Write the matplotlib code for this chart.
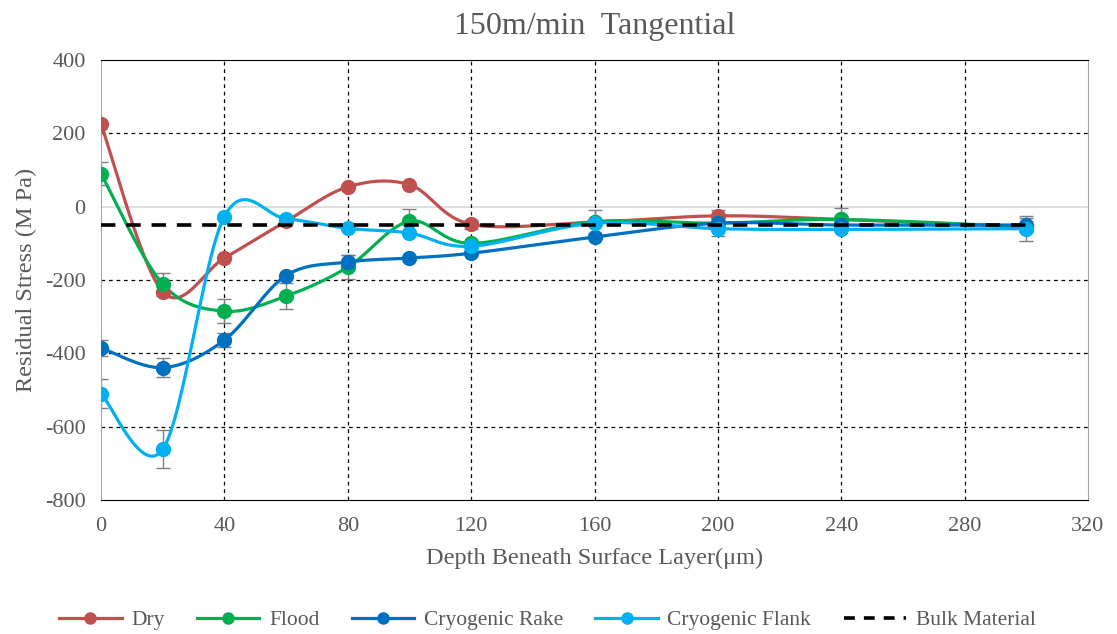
import numpy as np
import matplotlib.pyplot as plt
from matplotlib.lines import Line2D

# depth beneath surface (um)
depth = [0, 20, 40, 60, 80, 100, 120, 160, 200, 240, 300]

# residual stress (MPa)
dry = [225, -232, -140, -40, 54, 60, -48, -42, -25, -35, -55]
flood = [90, -211, -285, -244, -165, -40, -100, -41, -45, -35, -55]
rake = [-385, -439, -364, -188, -151, -140, -127, -83, -45, -50, -50]
flank = [-510, -662, -27, -33, -59, -72, -108, -45, -60, -62, -60]
bulk = [-50] * len(depth)

dry_err = [0, 12, 0, 0, 0, 0, 12, 0, 15, 0, 0]
flood_err = [32, 30, 33, 35, 32, 33, 0, 32, 0, 30, 0]
rake_err = [22, 25, 20, 0, 20, 0, 0, 0, 0, 0, 20]
flank_err = [40, 52, 0, 0, 0, 0, 0, 0, 20, 0, 35]


def smooth(x, y, n=30):
    # Excel style smoothed line: bezier segments with catmull-rom control points
    x = np.asarray(x, float)
    y = np.asarray(y, float)
    p = np.column_stack([x, y])
    ext = np.vstack([p[0], p, p[-1]])
    t = np.linspace(0, 1, n)[:, None]
    out = []
    for i in range(len(p) - 1):
        p0, p1, p2, p3 = ext[i], ext[i + 1], ext[i + 2], ext[i + 3]
        c1 = p1 + (p2 - p0) / 6.0
        c2 = p2 - (p3 - p1) / 6.0
        seg = ((1 - t) ** 3) * p1 + 3 * ((1 - t) ** 2) * t * c1 + 3 * (1 - t) * t ** 2 * c2 + t ** 3 * p2
        out.append(seg)
    out = np.vstack(out)
    return out[:, 0], out[:, 1]


plt.rcParams['font.family'] = ['Liberation Serif', 'DejaVu Serif']
plt.rcParams['axes.unicode_minus'] = False
gray = '#595959'

fig = plt.figure(figsize=(11.17, 6.34), dpi=100)
ax = fig.add_axes([101 / 1117, 134 / 634, 987 / 1117, 440 / 634])

series = [('Dry', dry, dry_err, '#C0504D'),
          ('Flood', flood, flood_err, '#00B050'),
          ('Cryogenic Rake', rake, rake_err, '#0070C0'),
          ('Cryogenic Flank', flank, flank_err, '#00B0F0')]

ax.axhline(0, color='#D9D9D9', lw=1.2, zorder=1)

handles = []
for name, vals, err, col in series:
    ex = [(xi, yi, ei) for xi, yi, ei in zip(depth, vals, err) if ei > 0]
    if ex:
        ax.errorbar([e[0] for e in ex], [e[1] for e in ex], yerr=[e[2] for e in ex],
                    fmt='none', ecolor='#7F7F7F', elinewidth=1, capsize=5, zorder=2)
    sx, sy = smooth(depth, vals)
    ax.plot(sx, sy, color=col, lw=2.3, zorder=3, solid_capstyle='round')
    ax.plot(depth, vals, 'o', color=col, ms=10, zorder=4)
    handles.append(Line2D([], [], color=col, lw=2.3, marker='o', ms=8, label=name))

ax.plot(depth, bulk, color='black', lw=2.6, ls=(0, (4, 3)), zorder=5)
handles.append(Line2D([], [], color='black', lw=2.6, ls=(0, (3, 2.5)), label='Bulk Material'))

ax.set_xlim(0, 320)
ax.set_ylim(-800, 400)
ax.set_xticks(np.arange(0, 321, 40))
ax.set_yticks(np.arange(-800, 401, 200))

for v in [40, 80, 120, 160, 200, 240, 280]:
    ax.axvline(v, color='black', lw=0.9, ls=(0, (3, 3)), zorder=1)
for v in [-600, -400, -200, 200]:
    ax.axhline(v, color='black', lw=0.9, ls=(0, (3, 3)), zorder=1)

ax.spines['top'].set_color('black')
ax.spines['bottom'].set_color('black')
ax.spines['left'].set_color('#A6A6A6')
ax.spines['right'].set_color('#A6A6A6')
ax.tick_params(length=0, labelsize=16, labelcolor=gray)
ax.tick_params(axis='x', pad=12)
ax.tick_params(axis='y', pad=11)

ax.set_title('150m/min  Tangential', fontsize=23, color=gray, pad=19)
ax.set_xlabel('Depth Beneath Surface Layer(\u03bcm)', fontsize=17.5, color=gray, labelpad=9)
ax.set_ylabel('Residual Stress (M Pa)', fontsize=17.5, color=gray, labelpad=6)

fig.legend(handles=handles, loc='center', bbox_to_anchor=(0.49, 14 / 634), ncol=5,
           frameon=False, fontsize=15.5, labelcolor=gray, handlelength=2.9,
           columnspacing=1.5, handletextpad=0.45)

fig.savefig('out.png', dpi=100)
